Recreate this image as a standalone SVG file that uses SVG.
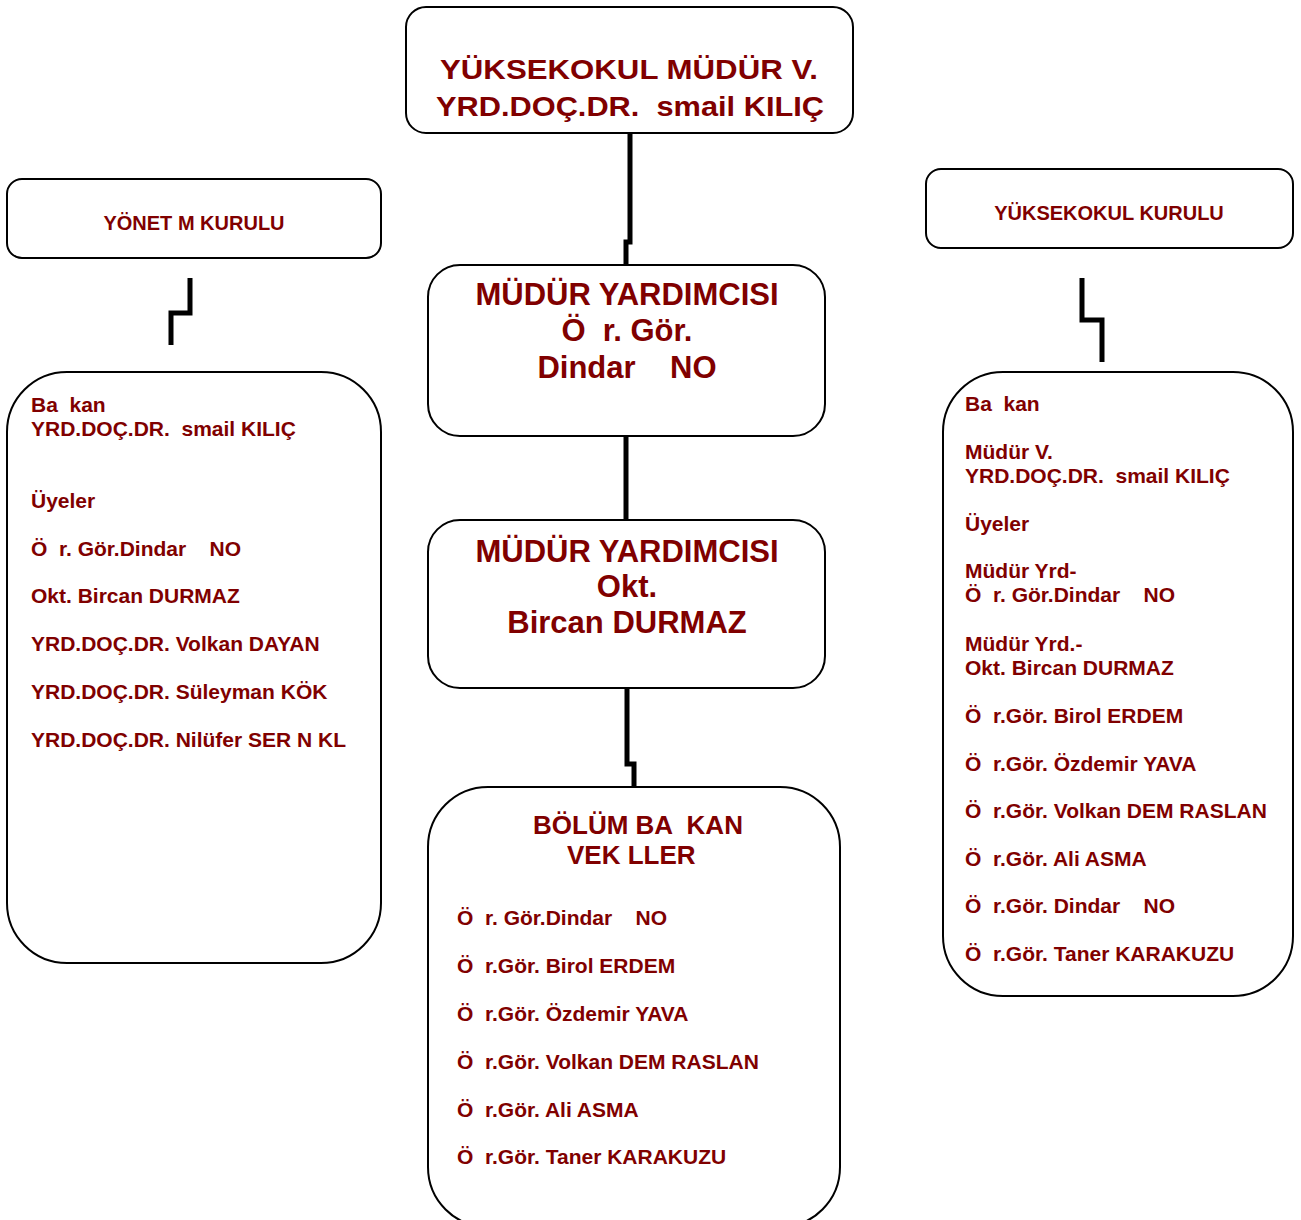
<svg xmlns="http://www.w3.org/2000/svg" width="1301" height="1220" viewBox="0 0 1301 1220">
<style>
.box{fill:#fff;stroke:#000;stroke-width:2}
.t{font-family:"Liberation Sans",Arial,sans-serif;font-weight:bold;fill:#800000;white-space:pre}
.big{font-size:31px;text-anchor:middle}
.top{font-size:28.5px;text-anchor:middle}
.hd{font-size:20px;text-anchor:middle}
.li{font-size:21px}
.bt{font-size:26px}
.conn{fill:none;stroke:#000;stroke-width:5}
</style>
<rect width="1301" height="1220" fill="#fff"/>
<g id="connectors">
<path class="conn" d="M630,133 V242 H626 V266"/>
<path class="conn" d="M626,436 V521"/>
<path class="conn" d="M627,689 V764 H634 V788"/>
<path class="conn" d="M190,278 V313 H171 V345"/>
<path class="conn" d="M1082,278 V320 H1102 V362"/>
</g>
<g id="mudur">
<rect class="box" x="406" y="7" width="447" height="126" rx="20"/>
<text class="t top" x="629" y="79" textLength="378" lengthAdjust="spacingAndGlyphs">YÜKSEKOKUL MÜDÜR V.</text>
<text class="t top" x="630" y="116" textLength="388" lengthAdjust="spacingAndGlyphs">YRD.DOÇ.DR.  smail KILIÇ</text>
</g>
<g id="yonetim-kurulu">
<rect class="box" x="7" y="179" width="374" height="79" rx="15"/>
<text class="t hd" x="194" y="230">YÖNET M KURULU</text>
</g>
<g id="yuksekokul-kurulu">
<rect class="box" x="926" y="169" width="367" height="79" rx="15"/>
<text class="t hd" x="1109" y="220">YÜKSEKOKUL KURULU</text>
</g>
<g id="yardimci1">
<rect class="box" x="428" y="265" width="397" height="171" rx="32"/>
<text class="t big" x="627" y="305">MÜDÜR YARDIMCISI</text>
<text class="t big" x="627" y="341">Ö  r. Gör.</text>
<text class="t big" x="627" y="378">Dindar    NO</text>
</g>
<g id="yardimci2">
<rect class="box" x="428" y="520" width="397" height="168" rx="32"/>
<text class="t big" x="627" y="562">MÜDÜR YARDIMCISI</text>
<text class="t big" x="627" y="597">Okt.</text>
<text class="t big" x="627" y="633">Bircan DURMAZ</text>
</g>
<g id="yonetim-uyeler">
<rect class="box" x="7" y="372" width="374" height="591" rx="60"/>
<text class="t li" x="31" y="412">Ba  kan</text>
<text class="t li" x="31" y="436">YRD.DOÇ.DR.  smail KILIÇ</text>
<text class="t li" x="31" y="508">Üyeler</text>
<text class="t li" x="31" y="556">Ö  r. Gör.Dindar    NO</text>
<text class="t li" x="31" y="603">Okt. Bircan DURMAZ</text>
<text class="t li" x="31" y="651">YRD.DOÇ.DR. Volkan DAYAN</text>
<text class="t li" x="31" y="699">YRD.DOÇ.DR. Süleyman KÖK</text>
<text class="t li" x="31" y="747">YRD.DOÇ.DR. Nilüfer SER N KL</text>
</g>
<g id="kurul-uyeler">
<rect class="box" x="943" y="372" width="350" height="624" rx="60"/>
<text class="t li" x="965" y="411">Ba  kan</text>
<text class="t li" x="965" y="459">Müdür V.</text>
<text class="t li" x="965" y="483">YRD.DOÇ.DR.  smail KILIÇ</text>
<text class="t li" x="965" y="531">Üyeler</text>
<text class="t li" x="965" y="578">Müdür Yrd-</text>
<text class="t li" x="965" y="602">Ö  r. Gör.Dindar    NO</text>
<text class="t li" x="965" y="651">Müdür Yrd.-</text>
<text class="t li" x="965" y="675">Okt. Bircan DURMAZ</text>
<text class="t li" x="965" y="723">Ö  r.Gör. Birol ERDEM</text>
<text class="t li" x="965" y="771">Ö  r.Gör. Özdemir YAVA</text>
<text class="t li" x="965" y="818">Ö  r.Gör. Volkan DEM RASLAN</text>
<text class="t li" x="965" y="866">Ö  r.Gör. Ali ASMA</text>
<text class="t li" x="965" y="913">Ö  r.Gör. Dindar    NO</text>
<text class="t li" x="965" y="961">Ö  r.Gör. Taner KARAKUZU</text>
</g>
<g id="bolum-baskan">
<rect class="box" x="428" y="787" width="412" height="440" rx="60"/>
<text class="t bt" x="533" y="834">BÖLÜM BA  KAN</text>
<text class="t bt" x="567" y="864">VEK LLER</text>
<text class="t li" x="457" y="925">Ö  r. Gör.Dindar    NO</text>
<text class="t li" x="457" y="973">Ö  r.Gör. Birol ERDEM</text>
<text class="t li" x="457" y="1021">Ö  r.Gör. Özdemir YAVA</text>
<text class="t li" x="457" y="1069">Ö  r.Gör. Volkan DEM RASLAN</text>
<text class="t li" x="457" y="1117">Ö  r.Gör. Ali ASMA</text>
<text class="t li" x="457" y="1164">Ö  r.Gör. Taner KARAKUZU</text>
</g>
</svg>
